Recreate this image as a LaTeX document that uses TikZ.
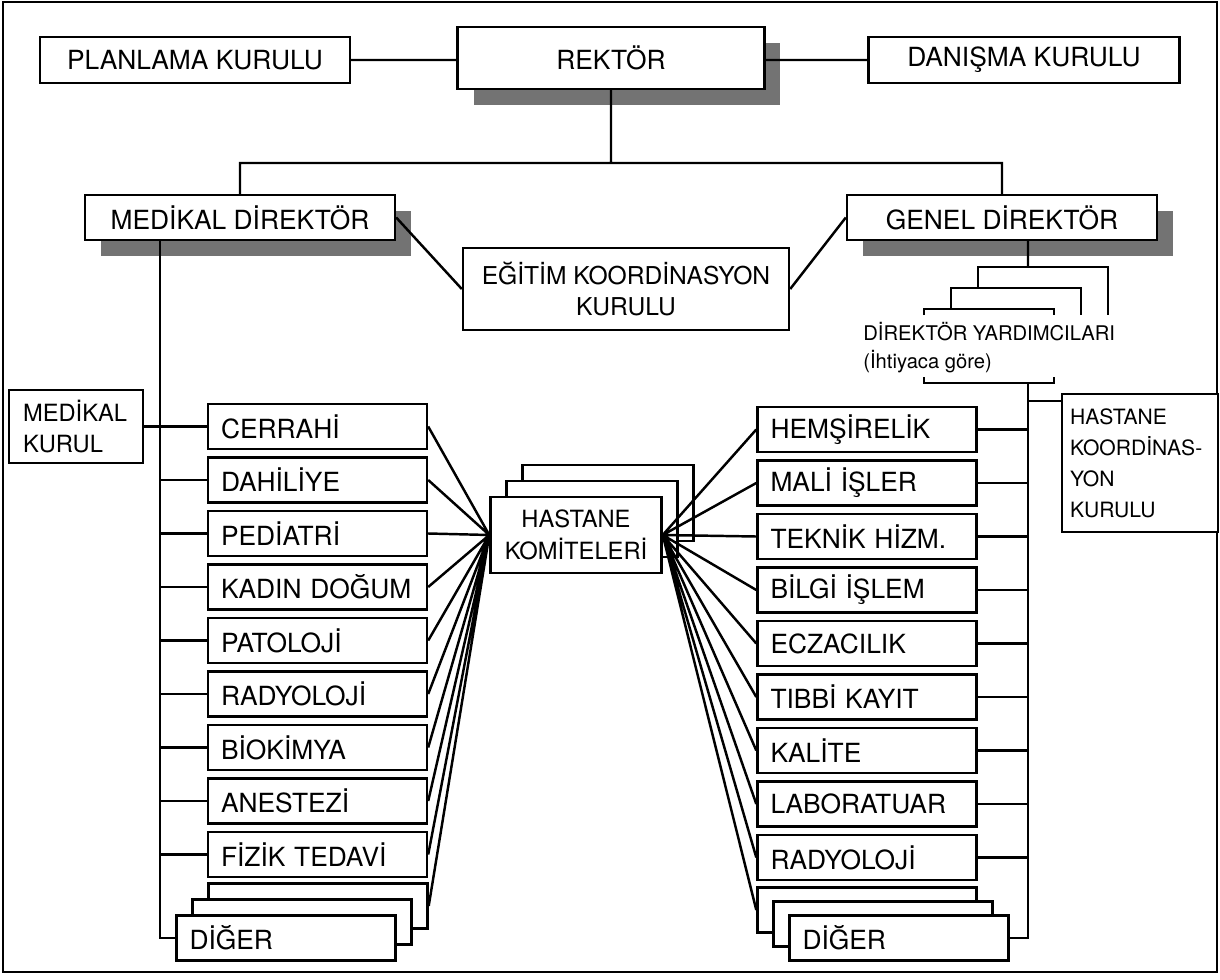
\documentclass[tikz,border=0pt]{standalone}
\usepackage{fontspec}
\setmainfont{TeX Gyre Heros}
\usetikzlibrary{shadows}

\begin{document}
\begin{tikzpicture}[x=0.02cm,y=-0.02cm,
  box/.style={draw,line width=1.4pt,fill=white,inner sep=0pt,font=\fontsize{15}{18}\selectfont},
  shadowed/.style={box,drop shadow={shadow xshift=.32cm,shadow yshift=-.32cm,fill=black!55,opacity=1}},
  unit/.style={box,font=\fontsize{15}{17}\selectfont,text width=3.86cm,inner xsep=.26cm,minimum height=.9cm,align=left},
  komite/.style={box,font=\fontsize{13.5}{18}\selectfont,minimum width=3.42cm,minimum height=1.52cm,align=center},
  link/.style={line width=1.4pt},
  bracket/.style={line width=.7pt}]
\useasboundingbox (0,0) rectangle (1220,980);
\fill[white] (0,0) rectangle (1220,980);
\draw[line width=1.4pt] (3,2) rectangle (1217,972);
% ust kademe
\node[box,minimum width=6.2cm,minimum height=.92cm] (planlama) at (195,60) {PLANLAMA KURULU};
\node[shadowed,minimum width=6.14cm,minimum height=1.24cm] (rektor) at (611,58) {REKTÖR};
\node[box,minimum width=6.22cm,minimum height=.92cm] (danisma) at (1024,60) {DANIŞMA KURULU};
\node[shadowed,minimum width=6.2cm,minimum height=.9cm] (meddir) at (240,217.5) {MEDİKAL DİREKTÖR};
\node[shadowed,minimum width=6.2cm,minimum height=.9cm] (gendir) at (1002,217.5) {GENEL DİREKTÖR};
\node[box,font=\fontsize{14}{18}\selectfont,minimum width=6.52cm,minimum height=1.64cm,align=center] (egitim) at (626,289) {EĞİTİM KOORDİNASYON\\KURULU};
\node[anchor=west,inner sep=0pt,font=\fontsize{11.5}{14}\selectfont] (yardimci) at (863,332) {DİREKTÖR YARDIMCILARI};
\node[anchor=west,inner sep=0pt,font=\fontsize{11.5}{14}\selectfont] (ihtiyac) at (863,362) {(İhtiyaca göre)};
\node[box,font=\fontsize{13.5}{18}\selectfont,text width=2.12cm,inner xsep=.28cm,minimum height=1.46cm,align=left] (medkurul) at (76,426.5) {MEDİKAL\\KURUL};
\node[box,font=\fontsize{12}{17.6}\selectfont,text width=2.8cm,inner xsep=.16cm,minimum height=2.76cm,align=left] (koord) at (1140,463) {HASTANE\\KOORDİNAS-\\YON\\KURULU};
% komiteler
\node[komite] (komiteC) at (608,503) {};
\node[komite] (komiteB) at (592,519) {};
\node[komite] (komite) at (576,535) {HASTANE\\KOMİTELERİ};
% tibbi birimler
\node[unit] (cerrahi) at (317.5,426.5) {CERRAHİ};
\node[unit] (dahiliye) at (317.5,480) {DAHİLİYE};
\node[unit] (pediatri) at (317.5,533.5) {PEDİATRİ};
\node[unit] (kadin) at (317.5,587) {KADIN DOĞUM};
\node[unit] (patoloji) at (317.5,640.5) {PATOLOJİ};
\node[unit] (radyolojiL) at (317.5,694) {RADYOLOJİ};
\node[unit] (biokimya) at (317.5,747.5) {BİOKİMYA};
\node[unit] (anestezi) at (317.5,801) {ANESTEZİ};
\node[unit] (fizik) at (317.5,854.5) {FİZİK TEDAVİ};
\node[unit] (digerLc) at (318,906) {};
\node[unit] (digerLb) at (302,922) {};
\node[unit] (digerL) at (286,938) {DİĞER};
% idari birimler
\node[unit] (hemsirelik) at (867,429.5) {HEMŞİRELİK};
\node[unit] (mali) at (867,483) {MALİ İŞLER};
\node[unit] (teknik) at (867,536.5) {TEKNİK HİZM.};
\node[unit] (bilgi) at (867,590) {BİLGİ İŞLEM};
\node[unit] (eczacilik) at (867,643.5) {ECZACILIK};
\node[unit] (kayit) at (867,697) {TIBBİ KAYIT};
\node[unit] (kalite) at (867,750.5) {KALİTE};
\node[unit] (laboratuar) at (867,804) {LABORATUAR};
\node[unit] (radyolojiR) at (867,857.5) {RADYOLOJİ};
\node[unit] (digerRc) at (867,910) {};
\node[unit] (digerRb) at (883,924) {};
\node[unit] (digerR) at (899,938) {DİĞER};
% baglantilar
\coordinate (bus) at (611,163);
\coordinate (lspine) at (160,240);
\coordinate (gdown) at (1028,267);
\coordinate (rspine) at (1028,383);
\coordinate (rk) at (1028,401);
\draw[link](planlama.east)--(planlama.east-|rektor.west)(danisma.west)--(danisma.west-|rektor.east)
  (rektor.south)--(bus)(meddir.north)|-(bus)-|(gendir.north)
  (meddir.east)--(egitim.west)(gendir.west)--(egitim.east)(gendir.south-|gdown)--(gdown);
\draw[bracket](978,288)|-(1108,267)--(1108,315);
\draw[bracket](951,309)|-(1081,288)--(1081,315);
\draw[bracket](924,315)|-(1054,309)--(1054,315);
\draw[bracket](924,377)|-(1054,383)--(1054,377);
\draw[link](lspine)|-(digerL.west)(medkurul.east)--(cerrahi.west)
  (dahiliye.west)--(dahiliye.west-|lspine)(pediatri.west)--(pediatri.west-|lspine)
  (kadin.west)--(kadin.west-|lspine)(patoloji.west)--(patoloji.west-|lspine)
  (radyolojiL.west)--(radyolojiL.west-|lspine)(biokimya.west)--(biokimya.west-|lspine)
  (anestezi.west)--(anestezi.west-|lspine)(fizik.west)--(fizik.west-|lspine);
\draw[link](rspine)|-(digerR.east)(rk)--(rk-|koord.west)
  (hemsirelik.east)--(hemsirelik.east-|rspine)(mali.east)--(mali.east-|rspine)
  (teknik.east)--(teknik.east-|rspine)(bilgi.east)--(bilgi.east-|rspine)
  (eczacilik.east)--(eczacilik.east-|rspine)(kayit.east)--(kayit.east-|rspine)
  (kalite.east)--(kalite.east-|rspine)(laboratuar.east)--(laboratuar.east-|rspine)
  (radyolojiR.east)--(radyolojiR.east-|rspine);
\draw[link](cerrahi.east)--(komite.west)(dahiliye.east)--(komite.west)(pediatri.east)--(komite.west)
  (kadin.east)--(komite.west)(patoloji.east)--(komite.west)(radyolojiL.east)--(komite.west)
  (biokimya.east)--(komite.west)(anestezi.east)--(komite.west)(fizik.east)--(komite.west)
  (digerLc.east)--(komite.west);
\draw[link](hemsirelik.west)--(komite.east)(mali.west)--(komite.east)(teknik.west)--(komite.east)
  (bilgi.west)--(komite.east)(eczacilik.west)--(komite.east)(kayit.west)--(komite.east)
  (kalite.west)--(komite.east)(laboratuar.west)--(komite.east)(radyolojiR.west)--(komite.east)
  (digerRc.west)--(komite.east);
\end{tikzpicture}
\end{document}
